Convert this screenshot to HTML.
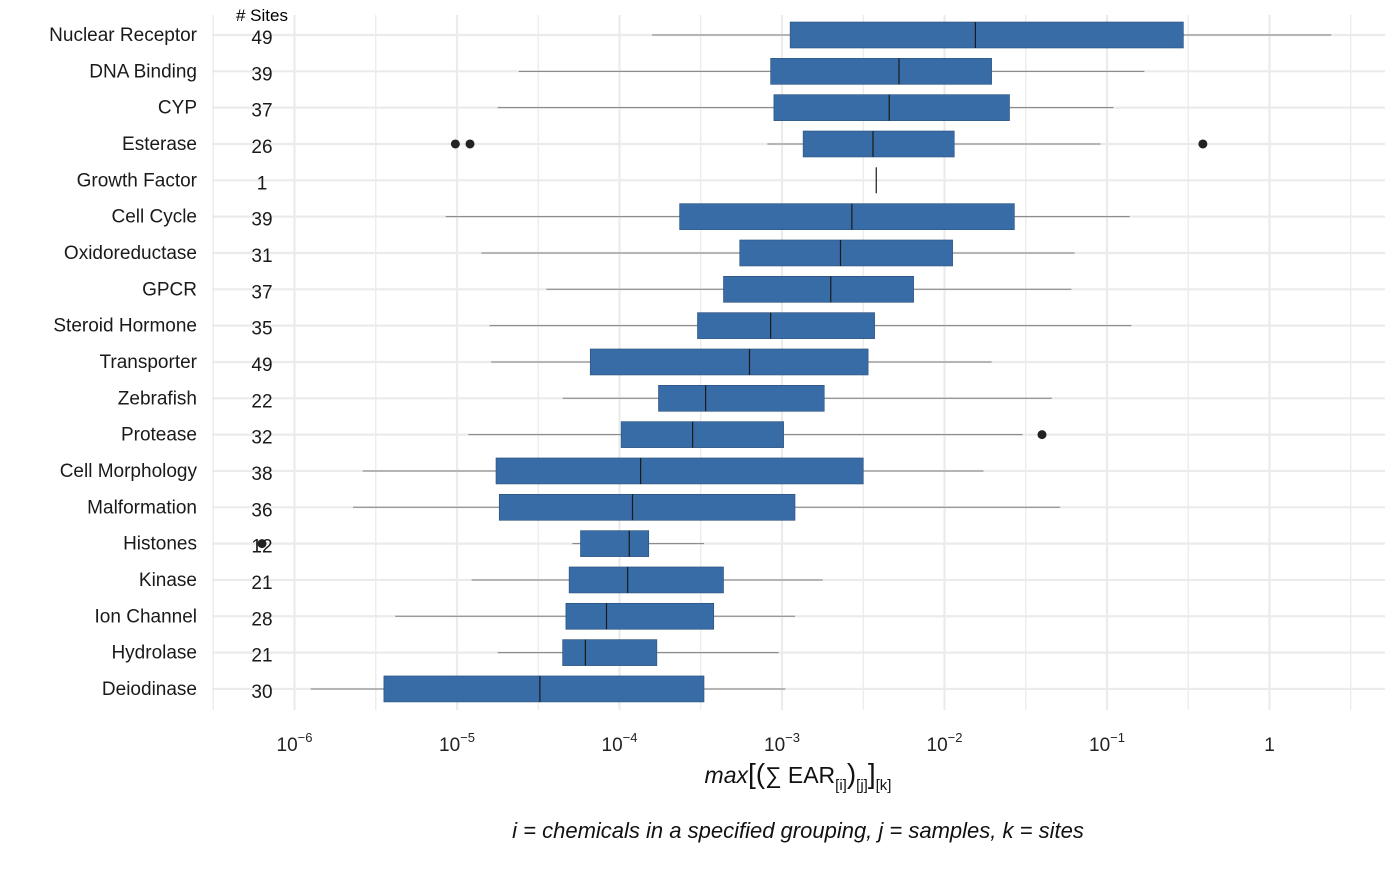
<!DOCTYPE html>
<html><head><meta charset="utf-8"><style>
body{margin:0;background:#fff;font-family:"Liberation Sans",Arial,sans-serif}
svg text{font-family:"Liberation Sans",Arial,sans-serif}
</style></head><body>
<svg id="chart" width="1400" height="865" xmlns="http://www.w3.org/2000/svg">
<g id="grid"></g><g id="marks"></g><g id="labels"></g>
<text x="262" y="21" font-size="17" text-anchor="middle" fill="#000"># Sites</text>
<text x="798" y="783" font-size="23" text-anchor="middle" fill="#111"><tspan font-style="italic">max</tspan><tspan font-size="28">[(</tspan>∑ EAR<tspan font-size="15" dy="7">[i]</tspan><tspan dy="-7" font-size="28">)</tspan><tspan font-size="15" dy="7">[j]</tspan><tspan dy="-7" font-size="28">]</tspan><tspan font-size="15" dy="7">[k]</tspan></text>
<text x="798" y="838" font-size="22" font-style="italic" text-anchor="middle" fill="#111">i = chemicals in a specified grouping, j = samples, k = sites</text>
</svg>
<script>
const categories=["Nuclear Receptor","DNA Binding","CYP","Esterase","Growth Factor","Cell Cycle","Oxidoreductase","GPCR","Steroid Hormone","Transporter","Zebrafish","Protease","Cell Morphology","Malformation","Histones","Kinase","Ion Channel","Hydrolase","Deiodinase"];
const sites=[49,39,37,26,1,39,31,37,35,49,22,32,38,36,12,21,28,21,30];
// log10 values
const whiskerLo=[-3.80,-4.62,-4.75,-3.09,-2.42,-5.07,-4.85,-4.45,-4.80,-4.79,-4.35,-4.93,-5.58,-5.64,-4.29,-4.91,-5.38,-4.75,-5.90];
const q1=[-2.95,-3.07,-3.05,-2.87,-2.42,-3.63,-3.26,-3.36,-3.52,-4.18,-3.76,-3.99,-4.76,-4.74,-4.24,-4.31,-4.33,-4.35,-5.45];
const median=[-1.81,-2.28,-2.34,-2.44,-2.42,-2.57,-2.64,-2.70,-3.07,-3.20,-3.47,-3.55,-3.87,-3.92,-3.94,-3.95,-4.08,-4.21,-4.49];
const q3=[-0.53,-1.71,-1.60,-1.94,-2.42,-1.57,-1.95,-2.19,-2.43,-2.47,-2.74,-2.99,-2.50,-2.92,-3.82,-3.36,-3.42,-3.77,-3.48];
const whiskerHi=[0.38,-0.77,-0.96,-1.04,-2.42,-0.86,-1.20,-1.22,-0.85,-1.71,-1.34,-1.52,-1.76,-1.29,-3.48,-2.75,-2.92,-3.02,-2.98];
const outlierCat=[3,3,3,11,14];
const outlierVal=[-5.01,-4.92,-0.41,-1.40,-6.20];
const tickVals=[-6,-5,-4,-3,-2,-1,0];
const tickLabels=["10^-6","10^-5","10^-4","10^-3","10^-2","10^-1","1"];
const NS="http://www.w3.org/2000/svg";
const x=v=>294.5+(v+6)*162.5;
const y=i=>35+i*36.33;
function mk(tag,attrs,parent){const e=document.createElementNS(NS,tag);for(const k in attrs)e.setAttribute(k,attrs[k]);document.getElementById(parent).appendChild(e);return e;}
for(let v=-6.5;v<=0.6;v+=0.5){const e=mk('line',{x1:x(v),x2:x(v),y1:15,y2:710,stroke:'#ebebeb','stroke-width':Number.isInteger(v)?2.2:1.3},'grid');

}
categories.forEach((c,i)=>{const e=mk('line',{x1:212,x2:1385,y1:y(i),y2:y(i),stroke:'#ebebeb','stroke-width':2.2},'grid');

});
categories.forEach((c,i)=>{
const w=mk('line',{x1:x(whiskerLo[i]),x2:x(whiskerHi[i]),y1:y(i),y2:y(i),stroke:'#7f7f7f','stroke-width':1},'marks');


const b=mk('rect',{x:x(q1[i]),y:y(i)-13,width:Math.max(0,x(q3[i])-x(q1[i])),height:26,fill:'#376ca7',stroke:'#2a4f78','stroke-width':0.6},'marks');


const m=mk('line',{x1:x(median[i]),x2:x(median[i]),y1:y(i)-13,y2:y(i)+13,stroke:'#1a1a1a','stroke-width':1.2},'marks');


const t=mk('text',{x:197,y:y(i)+6,'font-size':19,'text-anchor':'end',fill:'#1a1a1a'},'labels');t.textContent=c;


const s=mk('text',{x:262,y:y(i)+9,'font-size':19,'text-anchor':'middle',fill:'#1a1a1a'},'labels');s.textContent=sites[i];


});
outlierCat.forEach((ci,k)=>{const o=mk('circle',{cx:x(outlierVal[k]),cy:y(ci),r:4.5,fill:'#222'},'marks');

});
tickVals.forEach((v,k)=>{const t=mk('text',{x:x(v),y:751,'font-size':19,'text-anchor':'middle',fill:'#222'},'labels');


const lab=tickLabels[k];
if(lab.includes('^')){const [b,e]=lab.split('^');t.textContent=b;const sp=document.createElementNS(NS,'tspan');sp.setAttribute('font-size','13');sp.setAttribute('dy','-9');sp.textContent=e.replace('-','\u2212');t.appendChild(sp);}
else t.textContent=lab;});
</script>
</body></html>
